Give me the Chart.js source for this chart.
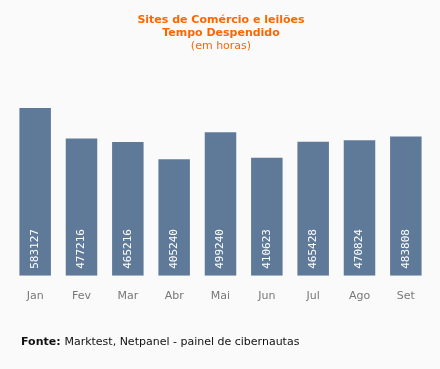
<!DOCTYPE html>
<html>
<head>
<meta charset="utf-8">
<script src="https://cdn.jsdelivr.net/npm/chart.js@4/dist/chart.umd.min.js"></script>
<style>
  html, body { margin: 0; padding: 0; background: #fafafa; }
  #wrap { width: 440px; height: 369px; }
</style>
</head>
<body>
<div id="wrap"><canvas id="chart" width="440" height="369"></canvas></div>
<script>
  const months = ["Jan", "Fev", "Mar", "Abr", "Mai", "Jun", "Jul", "Ago", "Set"];
  const minutes = [583127, 477216, 465216, 405240, 499240, 410623, 465428, 470824, 483808];
  const titleLines = ["Sites de Comércio e leilões", "Tempo Despendido", "(em horas)"];

  // titulo, valores nas barras e fonte
  const textPlugin = {
    id: "textPlugin",
    afterDatasetsDraw(chart) {
      const ctx = chart.ctx;
      ctx.save();
      ctx.textAlign = "center";
      ctx.textBaseline = "middle";
      ctx.fillStyle = "#ff6600";
      ctx.font = "bold 11px 'DejaVu Sans'";
      ctx.fillText(titleLines[0], 221, 20);
      ctx.fillText(titleLines[1], 221, 33);
      ctx.font = "11px 'DejaVu Sans'";
      ctx.fillText(titleLines[2], 221, 46);

      const meta = chart.getDatasetMeta(0);
      ctx.fillStyle = "#ffffff";
      ctx.font = "11px 'DejaVu Sans Mono'";
      ctx.textAlign = "left";
      meta.data.forEach((bar, i) => {
        ctx.save();
        ctx.translate(bar.x, bar.base - 7);
        ctx.rotate(-Math.PI / 2);
        ctx.fillText(String(minutes[i]), 0, 0);
        ctx.restore();
      });

      ctx.textAlign = "left";
      ctx.fillStyle = "#111111";
      ctx.font = "bold 11px 'DejaVu Sans'";
      ctx.fillText("Fonte:", 21, 342);
      const w = ctx.measureText("Fonte: ").width;
      ctx.font = "11px 'DejaVu Sans'";
      ctx.fillText("Marktest, Netpanel - painel de cibernautas", 21 + w, 342);
      ctx.restore();
    }
  };

  new Chart(document.getElementById("chart"), {
    type: "bar",
    data: {
      labels: months,
      datasets: [{
        data: minutes,
        backgroundColor: "#5f7a99",
        categoryPercentage: 1,
        barPercentage: 0.68
      }]
    },
    options: {
      responsive: false,
      animation: false,
      layout: { padding: { left: 12, right: 11, top: 108, bottom: 60 } },
      plugins: { legend: { display: false }, tooltip: { enabled: false } },
      scales: {
        x: {
          grid: { display: false },
          border: { display: false },
          ticks: { color: "#777777", font: { family: "DejaVu Sans", size: 11 }, padding: 6 }
        },
        y: {
          display: false,
          min: 0,
          max: 583127
        }
      }
    },
    plugins: [textPlugin]
  });
</script>
</body>
</html>
